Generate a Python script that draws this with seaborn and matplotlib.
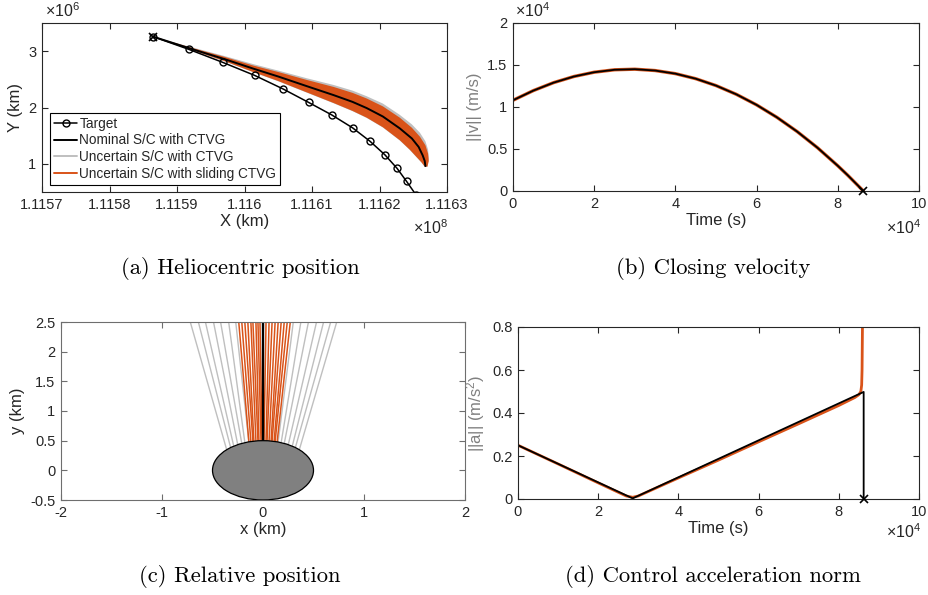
import matplotlib
matplotlib.use("Agg")
import matplotlib.pyplot as plt
import seaborn as sns
import pandas as pd
from matplotlib.patches import Ellipse
from matplotlib.lines import Line2D
from matplotlib.ticker import FuncFormatter

# ---- (a) heliocentric position (km)
target_x = [1.115864e8, 1.115918e8, 1.115968e8, 1.116015e8, 1.116057e8, 1.116095e8, 1.116129e8,
            1.116160e8, 1.116186e8, 1.116208e8, 1.116226e8, 1.116240e8, 1.116254e8]
target_y = [3.26e6, 3.03e6, 2.80e6, 2.57e6, 2.33e6, 2.09e6, 1.87e6,
            1.64e6, 1.40e6, 1.16e6, 0.92e6, 0.69e6, 0.45e6]

nominal_x = [1.115864e8, 1.115920e8, 1.115970e8, 1.116013e8, 1.116050e8, 1.116092e8, 1.116132e8,
             1.116160e8, 1.116181e8, 1.116205e8, 1.116230e8, 1.116248e8, 1.116258e8, 1.116264e8,
             1.116267e8, 1.116268e8]
nominal_y = [3.26e6, 3.045e6, 2.86e6, 2.69e6, 2.55e6, 2.38e6, 2.22e6,
             2.10e6, 1.99e6, 1.84e6, 1.63e6, 1.45e6, 1.30e6, 1.15e6, 1.05e6, 0.96e6]

upper_x = [1.115864e8, 1.115920e8, 1.115970e8, 1.116013e8, 1.116050e8, 1.116092e8, 1.116132e8,
           1.116160e8, 1.116181e8, 1.116205e8, 1.116230e8, 1.116248e8, 1.116260e8, 1.116268e8,
           1.116272e8, 1.116273e8, 1.116271e8]
gray_upper = [3.26e6, 3.075e6, 2.915e6, 2.77e6, 2.655e6, 2.52e6, 2.40e6, 2.30e6, 2.20e6,
              2.07e6, 1.87e6, 1.70e6, 1.55e6, 1.40e6, 1.25e6, 1.10e6, 0.95e6]
orange_upper = [3.26e6, 3.065e6, 2.90e6, 2.745e6, 2.63e6, 2.49e6, 2.365e6, 2.26e6, 2.16e6,
                2.02e6, 1.82e6, 1.64e6, 1.48e6, 1.33e6, 1.18e6, 1.05e6, 0.95e6]

lower_x = [1.115864e8, 1.115920e8, 1.115970e8, 1.116013e8, 1.116050e8, 1.116092e8, 1.116132e8,
           1.116160e8, 1.116181e8, 1.116205e8, 1.116230e8, 1.116245e8, 1.116255e8, 1.116262e8,
           1.116267e8]
gray_lower = [3.26e6, 3.025e6, 2.82e6, 2.625e6, 2.465e6, 2.265e6, 2.075e6, 1.935e6, 1.815e6,
              1.645e6, 1.415e6, 1.245e6, 1.115e6, 1.025e6, 0.95e6]
orange_lower = [3.26e6, 3.03e6, 2.825e6, 2.63e6, 2.47e6, 2.27e6, 2.08e6, 1.94e6, 1.82e6,
                1.65e6, 1.42e6, 1.25e6, 1.12e6, 1.03e6, 0.95e6]

# ---- (b) closing velocity
t_v = [0, 5000, 10000, 15000, 20000, 25000, 30000, 35000, 40000, 45000, 50000,
       55000, 60000, 65000, 70000, 75000, 80000, 82500, 86300]
vel = [10800, 11950, 12900, 13630, 14140, 14430, 14500, 14340, 13970, 13370, 12550,
       11510, 10250, 8770, 7070, 5150, 3000, 1850, 0]

# ---- (c) relative position (km)
gray_top_x = [-0.72, -0.64, -0.57, -0.49, -0.42, -0.34, -0.27, 0.30, 0.375, 0.45, 0.53, 0.60, 0.67, 0.73]
gray_bot_x = [-0.36, -0.32, -0.29, -0.25, -0.21, -0.18, -0.14, 0.15, 0.18, 0.21, 0.25, 0.29, 0.32, 0.36]
gray_bot_y = [0.35, 0.38, 0.41, 0.43, 0.45, 0.47, 0.48, 0.48, 0.47, 0.45, 0.43, 0.41, 0.38, 0.35]
orange_top_x = [-0.24, -0.21, -0.18, -0.15, -0.12, -0.10, -0.07, -0.05, -0.03,
                0.03, 0.06, 0.09, 0.12, 0.15, 0.18, 0.21, 0.24, 0.27]
orange_bot_x = [-0.14, -0.12, -0.10, -0.09, -0.07, -0.05, -0.04, -0.02, -0.01,
                0.01, 0.03, 0.04, 0.06, 0.08, 0.09, 0.11, 0.12, 0.14]
orange_bot_y = [0.48, 0.485, 0.49, 0.49, 0.495, 0.497, 0.498, 0.5, 0.5,
                0.5, 0.5, 0.498, 0.496, 0.493, 0.49, 0.488, 0.485, 0.48]
top_y = 2.5

# ---- (d) control acceleration norm
t_a_nom = [0, 28600, 86200, 86200]
acc_nom = [0.25, 0.003, 0.498, 0.0]
t_a_sl = [0, 10000, 20000, 27000, 28600, 30000, 40000, 50000, 60000, 70000, 80000,
          84000, 85000, 85500, 85700, 85800, 85900, 86000]
acc_sl = [0.25, 0.163, 0.075, 0.014, 0.008, 0.014, 0.098, 0.181, 0.266, 0.35, 0.435,
          0.472, 0.485, 0.50, 0.53, 0.60, 0.80, 1.0]

ORANGE = '#D95319'
GRAY = '#BFBFBF'
DARK = '#262626'

sns.set_theme(style="white")
plt.rcParams['font.family'] = ['Liberation Sans', 'DejaVu Sans']
plt.rcParams['mathtext.fontset'] = 'custom'
plt.rcParams['mathtext.rm'] = 'Liberation Sans'
plt.rcParams['mathtext.it'] = 'Liberation Sans:italic'
plt.rcParams['font.size'] = 10.5

W, H = 929, 595
fig = plt.figure(figsize=(W / 100, H / 100), dpi=100)


def add_ax(l, t, r, b):
    return fig.add_axes([l / W, 1 - b / H, (r - l) / W, (b - t) / H])


def style(ax, spine=DARK):
    for s in ax.spines.values():
        s.set_visible(True)
        s.set_color(spine)
        s.set_linewidth(0.8)
    ax.tick_params(direction='in', length=4, width=0.8, top=True, right=True,
                   bottom=True, left=True, labelsize=10.5, colors=spine,
                   labelcolor=DARK, pad=4)


def sci(v, p):
    return f'{v / 10 ** p:g}'


ax1 = add_ax(42, 23, 447, 192)
ax2 = add_ax(513, 23, 919, 191)
ax3 = add_ax(61, 322, 465, 500)
ax4 = add_ax(518, 327, 919, 499)

# (a)
ax1.fill(upper_x + lower_x[::-1], gray_upper + gray_lower[::-1], color=GRAY, lw=0, zorder=1)
ax1.fill(upper_x + lower_x[::-1], orange_upper + orange_lower[::-1], color=ORANGE, lw=0, zorder=2)
sns.lineplot(x=nominal_x, y=nominal_y, sort=False, estimator=None, color='black', lw=1.4, ax=ax1, zorder=4)
sns.lineplot(x=target_x, y=target_y, sort=False, estimator=None, color='black', lw=1.1,
             marker='o', markersize=5, markerfacecolor='none', markeredgecolor='black',
             markeredgewidth=1.0, ax=ax1, zorder=5)
ax1.plot([target_x[0]], [target_y[0]], marker='x', color='black', ms=6, mew=1.2, zorder=6)
ax1.set_xlim(1.1157e8, 1.1163e8)
ax1.set_ylim(0.5e6, 3.5e6)
ax1.set_xticks([1.1157e8 + i * 1e4 for i in range(7)])
ax1.set_yticks([1e6, 2e6, 3e6])
ax1.xaxis.set_major_formatter(FuncFormatter(lambda v, p: sci(v, 8)))
ax1.yaxis.set_major_formatter(FuncFormatter(lambda v, p: sci(v, 6)))
ax1.set_xlabel('X (km)', color=DARK, labelpad=2)
ax1.set_ylabel('Y (km)', color=DARK, labelpad=4)
style(ax1)
handles = [Line2D([], [], color='black', lw=1.1, marker='o', ms=5, mfc='none'),
           Line2D([], [], color='black', lw=1.4),
           Line2D([], [], color=GRAY, lw=1.4),
           Line2D([], [], color=ORANGE, lw=1.4)]
labels = ['Target', 'Nominal S/C with CTVG', 'Uncertain S/C with CTVG', 'Uncertain S/C with sliding CTVG']
leg = ax1.legend(handles, labels, loc='lower left', bbox_to_anchor=(8 / 405, 7 / 169),
                 borderaxespad=0, fontsize=9.8, handlelength=1.7, handletextpad=0.15,
                 labelspacing=0.2, borderpad=0.3, fancybox=False, framealpha=1,
                 edgecolor='black')
leg.get_frame().set_linewidth(0.8)

# (b)
sns.lineplot(x=t_v, y=vel, sort=False, estimator=None, color=ORANGE, lw=2.4, ax=ax2)
sns.lineplot(x=t_v, y=vel, sort=False, estimator=None, color='black', lw=1.3, ax=ax2)
ax2.plot([t_v[-1]], [vel[-1]], marker='x', color='black', ms=6, mew=1.2, clip_on=False, zorder=6)
ax2.set_xlim(0, 1e5)
ax2.set_ylim(0, 2e4)
ax2.set_xticks(range(0, 100001, 20000))
ax2.set_yticks(range(0, 20001, 5000))
ax2.xaxis.set_major_formatter(FuncFormatter(lambda v, p: sci(v, 4)))
ax2.yaxis.set_major_formatter(FuncFormatter(lambda v, p: sci(v, 4)))
ax2.set_xlabel('Time (s)', color=DARK, labelpad=2)
ax2.set_ylabel('||v|| (m/s)', color='#808080', labelpad=4)
style(ax2)

# (c)
rows = []
for i, (tx, bx, by) in enumerate(zip(gray_top_x, gray_bot_x, gray_bot_y)):
    rows += [('g%d' % i, 'gray', bx, by), ('g%d' % i, 'gray', tx, top_y)]
for i, (tx, bx, by) in enumerate(zip(orange_top_x, orange_bot_x, orange_bot_y)):
    rows += [('o%d' % i, 'orange', bx, by), ('o%d' % i, 'orange', tx, top_y)]
rel = pd.DataFrame(rows, columns=['traj', 'kind', 'x', 'y'])
sns.lineplot(data=rel[rel.kind == 'gray'], x='x', y='y', units='traj', estimator=None,
             sort=False, color=GRAY, lw=1.0, ax=ax3)
sns.lineplot(data=rel[rel.kind == 'orange'], x='x', y='y', units='traj', estimator=None,
             sort=False, color=ORANGE, lw=1.1, ax=ax3)
sns.lineplot(x=[0, 0], y=[0.5, top_y], sort=False, estimator=None, color='black', lw=1.7, ax=ax3)
ax3.add_patch(Ellipse((0, 0), 1.0, 1.0, facecolor='#808080', edgecolor='black', lw=0.9, zorder=5))
ax3.set_xlim(-2, 2)
ax3.set_ylim(-0.5, 2.5)
ax3.set_xticks([-2, -1, 0, 1, 2])
ax3.set_yticks([-0.5, 0, 0.5, 1, 1.5, 2, 2.5])
ax3.xaxis.set_major_formatter(FuncFormatter(lambda v, p: f'{v:g}'))
ax3.yaxis.set_major_formatter(FuncFormatter(lambda v, p: f'{v:g}'))
ax3.set_xlabel('x (km)', color=DARK, labelpad=2)
ax3.set_ylabel('y (km)', color=DARK, labelpad=4)
style(ax3, spine='#6e6e6e')

# (d)
sns.lineplot(x=t_a_sl, y=acc_sl, sort=False, estimator=None, color=ORANGE, lw=2.0, ax=ax4)
sns.lineplot(x=t_a_nom, y=acc_nom, sort=False, estimator=None, color='black', lw=1.3, ax=ax4)
ax4.plot([t_a_nom[-1]], [acc_nom[-1]], marker='x', color='black', ms=6, mew=1.2, clip_on=False, zorder=6)
ax4.set_xlim(0, 1e5)
ax4.set_ylim(0, 0.8)
ax4.set_xticks(range(0, 100001, 20000))
ax4.set_yticks([0, 0.2, 0.4, 0.6, 0.8])
ax4.xaxis.set_major_formatter(FuncFormatter(lambda v, p: sci(v, 4)))
ax4.yaxis.set_major_formatter(FuncFormatter(lambda v, p: f'{v:g}'))
ax4.set_xlabel('Time (s)', color=DARK, labelpad=2)
ax4.set_ylabel(r'||a|| (m/s$^{2}$)', color='#808080', labelpad=4)
style(ax4)


# multiplier labels
def mult(x, y, p, ha):
    fig.text(x / W, 1 - y / H, r'$\times\mathregular{10^{%d}}$' % p, ha=ha, va='center',
             fontsize=11.5, color=DARK)


mult(45, 11, 6, 'left')
mult(448, 228, 8, 'right')
mult(515, 11, 4, 'left')
mult(921, 228, 4, 'right')
mult(921, 532, 4, 'right')

# captions
cap = dict(fontfamily='cmr10', fontsize=16.3, ha='center', va='center', color='black')
fig.text(240 / W, 1 - 268 / H, '(a) Heliocentric position', **cap)
fig.text(713 / W, 1 - 268 / H, '(b) Closing velocity', **cap)
fig.text(240 / W, 1 - 577 / H, '(c) Relative position', **cap)
fig.text(713 / W, 1 - 577 / H, '(d) Control acceleration norm', **cap)

fig.savefig('out.png', dpi=100)
